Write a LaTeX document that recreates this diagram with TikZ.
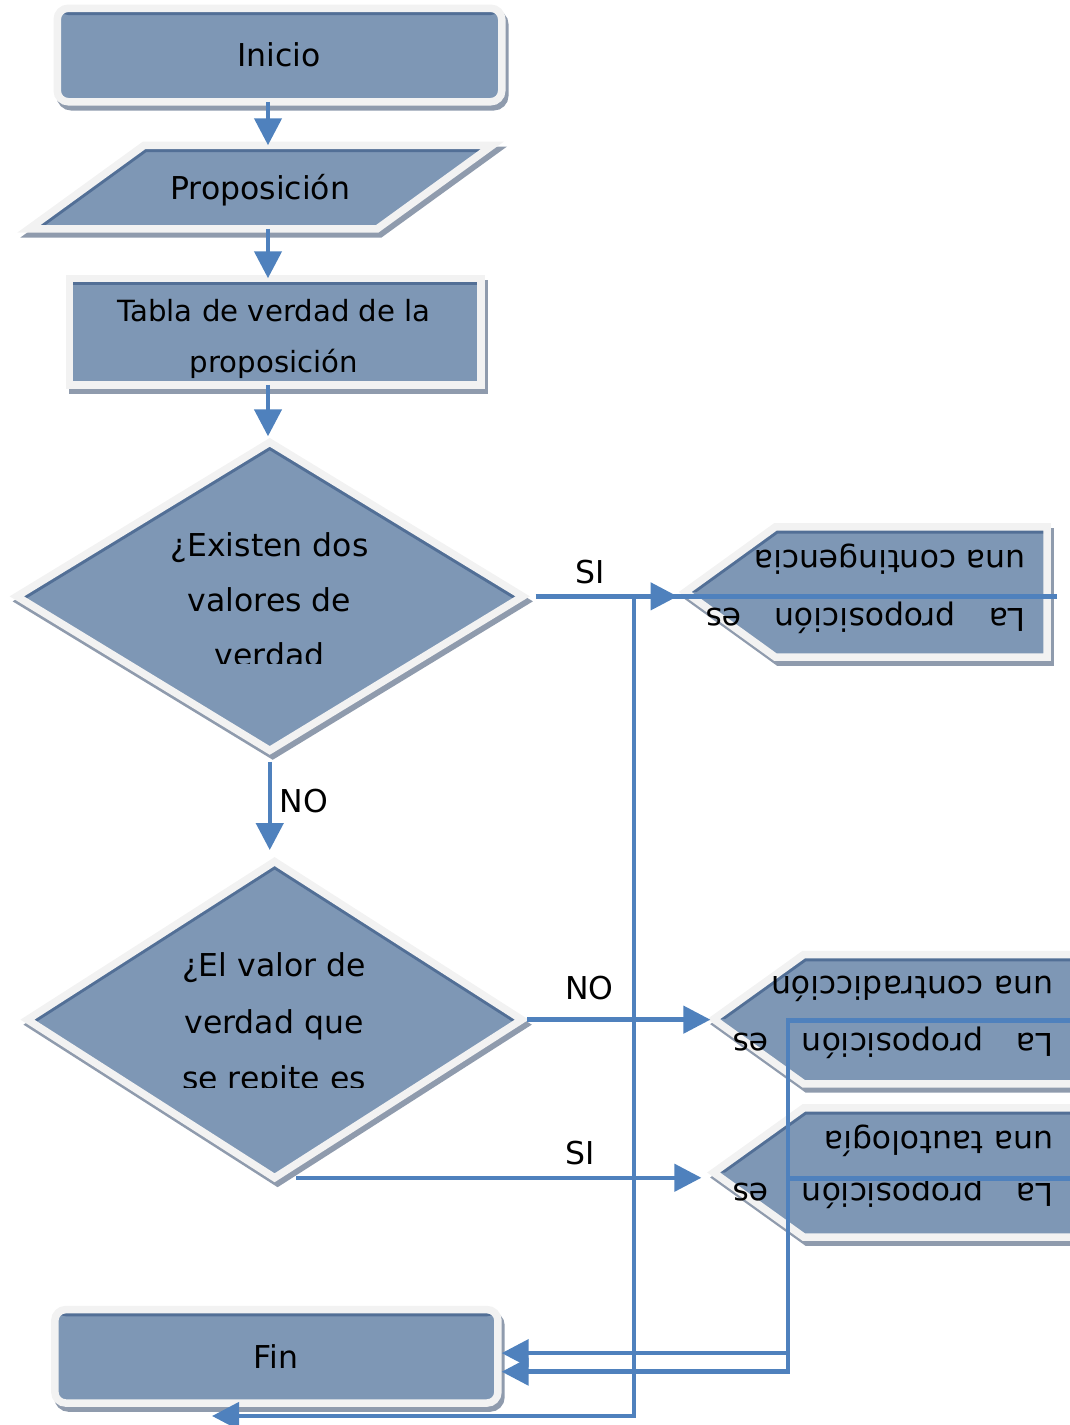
\documentclass[tikz,border=0pt]{standalone}
\usepackage{fontspec}
\setmainfont{DejaVu Sans}
\usepackage{tikz}
\usetikzlibrary{arrows.meta,shapes.geometric}

\definecolor{fcfill}{RGB}{126,151,181}
\definecolor{fcedge}{RGB}{82,111,150}
\definecolor{fcband}{RGB}{242,242,242}
\definecolor{fcshadow}{RGB}{143,155,173}
\definecolor{fcblue}{RGB}{79,129,189}

\newcommand{\fcfont}{\fontsize{31.5pt}{38pt}\selectfont}
\newcommand{\fcsmall}{\fontsize{29.2pt}{35pt}\selectfont}

\begin{document}
\begin{tikzpicture}[
    x=1pt, y=-1pt,
    >={Triangle[length=27pt,width=27pt]},
    fcshape/.style={
        draw=fcband,
        fill=fcfill,
        line width=7.5pt,
        inner sep=0pt,
        outer sep=0pt,
        preaction={
            draw=fcshadow,
            fill=fcshadow,
            line width=7.5pt,
            transform canvas={shift={(3pt,-5pt)}}
        }
    },
    fcframe/.style={inner sep=0pt, outer sep=0pt},
    topedge/.style={
        path picture={
            \fill[fcedge] (path picture bounding box.north west)
                rectangle ([yshift=-6.75pt]path picture bounding box.north east);
        }
    },
    diamondedge/.style={
        path picture={
            \fill[fcedge] (path picture bounding box.west)
                -- (path picture bounding box.north)
                -- (path picture bounding box.east)
                -- ([yshift=-8pt]path picture bounding box.east)
                -- ([yshift=-8pt]path picture bounding box.north)
                -- ([yshift=-8pt]path picture bounding box.west) -- cycle;
        }
    },
    slantedge/.style n args={3}{
        path picture={
            \fill[fcedge] (path picture bounding box.#1)
                -- ([xshift=#2]path picture bounding box.north west)
                -- (path picture bounding box.north east)
                -- ([yshift=-6.75pt]path picture bounding box.north east)
                -- ([xshift=#3,yshift=-6.75pt]path picture bounding box.north west)
                -- ([xshift=11.5pt]path picture bounding box.#1) -- cycle;
        }
    },
    fctext/.style={font=\fcfont, inner sep=0pt, anchor=base},
    fcflip/.style={fctext, rotate=180, anchor=base west},
    fclabel/.style={font=\fcfont, inner sep=0pt, outer sep=0pt},
    flow/.style={draw=fcblue, line width=4.5pt, ->}
]

\useasboundingbox (0,0) rectangle (1069,1425);


% Inicio y entrada

\node[fcshape, topedge, rounded corners=11pt,
    minimum width=444.5pt, minimum height=93.5pt] (inicio) at (279.5,55) {};

\node[fcframe, minimum width=463.5pt, minimum height=83.5pt] (prop) at (260.75,187) {};
\path[fcshape, slantedge={south west}{115.2pt}{117.4pt}]
    (prop.south west) -- ([xshift=115.2pt]prop.north west)
    -- (prop.north east) -- ([xshift=-115.2pt]prop.south east) -- cycle;

\node[fcshape, topedge,
    minimum width=411.5pt, minimum height=106.5pt] (tabla) at (275,331.5) {};


% Decisiones

\node[fcshape, diamondedge, diamond,
    minimum width=505.9pt, minimum height=308.1pt] (q1) at (269.75,596.35) {};

\node[fcshape, diamondedge, diamond,
    minimum width=494.4pt, minimum height=316.2pt] (q2) at (274.6,1019.65) {};


% Resultados

\node[fcframe, minimum width=362.05pt, minimum height=130.1pt] (res1) at (866.2,592) {};
\path[fcshape, slantedge={west}{90.1pt}{92.3pt}]
    (res1.west) -- ([xshift=90.1pt]res1.north west) -- (res1.north east)
    -- (res1.south east) -- ([xshift=90.1pt]res1.south west) -- cycle;

\node[fcframe, minimum width=376.4pt, minimum height=129.2pt] (res2) at (901.8,1019.15) {};
\path[fcshape, slantedge={west}{90.1pt}{92.3pt}]
    (res2.west) -- ([xshift=90.1pt]res2.north west) -- (res2.north east)
    -- (res2.south east) -- ([xshift=90.1pt]res2.south west) -- cycle;

\node[fcframe, minimum width=376.4pt, minimum height=129.1pt] (res3) at (901.8,1172.5) {};
\path[fcshape, slantedge={west}{90.1pt}{92.3pt}]
    (res3.west) -- ([xshift=90.1pt]res3.north west) -- (res3.north east)
    -- (res3.south east) -- ([xshift=90.1pt]res3.south west) -- cycle;


% Fin

\node[fcshape, topedge, rounded corners=11pt,
    minimum width=443.1pt, minimum height=93.5pt] (fin) at (276.4,1356.3) {};


% Textos

\node[fctext] (inicio-txt) at (278.8,66) {Inicio};
\node[fctext] (prop-txt) at (260.3,199) {Proposición};
\node[fctext, font=\fcsmall] (tabla-l1) at (274,321.7) {Tabla de verdad de la};
\node[fctext, font=\fcsmall] (tabla-l2) at (274,372) {proposición};
\node[fctext] (fin-txt) at (275.9,1368.3) {Fin};

\begin{scope}
    \clip (0,0) rectangle (1069,663);
    \node[fctext] (q1-l1) at (269.5,556.7) {¿Existen dos};
    \node[fctext] (q1-l2) at (269.5,611.7) {valores de};
    \node[fctext] (q1-l3) at (269.5,666.7) {verdad};
\end{scope}

\begin{scope}
    \clip (0,0) rectangle (1069,1087);
    \node[fctext] (q2-l1) at (274,976.7) {¿El valor de};
    \node[fctext] (q2-l2) at (274,1033.3) {verdad que};
    \node[fctext] (q2-l3) at (274,1089.9) {se repite es};
\end{scope}

\node[fcflip] (res1-l1) at (1026,608.3) {\makebox[320pt][s]{La proposición es}};
\node[fcflip] (res1-l2) at (1026,550) {una contingencia};
\node[fcflip] (res2-l1) at (1053.3,1033.3) {\makebox[320pt][s]{La proposición es}};
\node[fcflip] (res2-l2) at (1053.3,976.7) {una contradicción};
\node[fcflip] (res3-l1) at (1053.3,1183.3) {\makebox[320pt][s]{La proposición es}};
\node[fcflip] (res3-l2) at (1053.3,1131.7) {una tautología};


% Conectores

\coordinate (spine) at (268,0);
\coordinate (busA) at (634,1416);
\coordinate (busB) at (788,0);
\coordinate (finlow) at (212,1416);
\coordinate (fin-in1) at ([xshift=3.75pt,yshift=3.2pt]fin.east);
\coordinate (fin-in2) at ([xshift=3.75pt,yshift=-15.4pt]fin.east);
\path (res1.east |- q1.east) ++(10pt,0) coordinate (res1-out);
\path (q2.south) ++(21.4pt,0) coordinate (q2-out);

\draw[flow] (inicio.south -| spine) -- (prop.north -| spine);
\draw[flow] (prop.south -| spine) -- (tabla.north -| spine);
\draw[flow, shorten >=6pt] (tabla.south -| spine) -- (q1.north -| spine);

\draw[
    flow,
    shorten <=11.5pt,
    shorten >=11.5pt
] (q1.south) -- (q1.south |- q2.north)
    node[fclabel, pos=0.458, right=10pt] (lbl-no1) {NO};

\draw[
    flow,
    shorten <=13pt,
    shorten >=7.6pt
] (q1.east) -- (q1.east -| res1.west)
    node[fclabel, pos=0.413, above=12.7pt] (lbl-si1) {SI};

\draw[flow] (res1-out) -| (busA) -- (finlow);

\draw[
    flow,
    shorten <=5pt,
    shorten >=3.2pt
] (q2.east) -- (q2.east -| res2.west)
    node[fclabel, pos=0.352, above=20pt] (lbl-no2) {NO};

\draw[
    flow,
    shorten >=12.2pt
] (q2-out) -- (q2-out -| res3.west)
    node[fclabel, pos=0.68, above=13.3pt] (lbl-si2) {SI};

\draw[flow] ([yshift=-1.5pt]res2.east) -| (busB |- fin-in2) -- (fin-in2);
\draw[flow] ([yshift=-5.8pt]res3.east) -| (busB |- fin-in1) -- (fin-in1);

\end{tikzpicture}
\end{document}
